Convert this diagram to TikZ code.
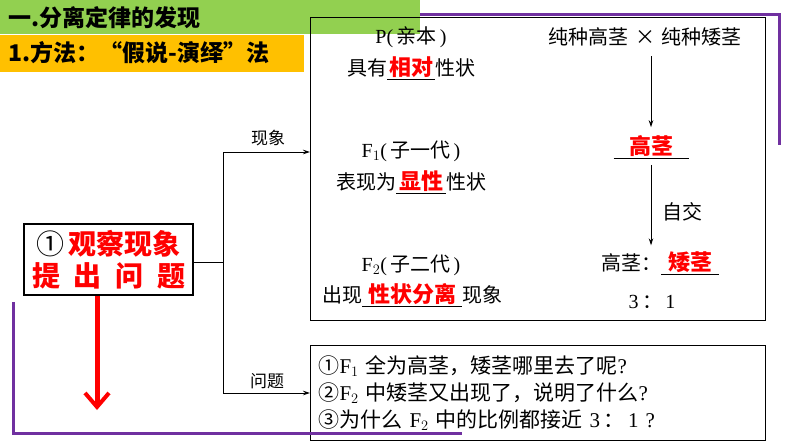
\documentclass[tikz,border=0pt]{standalone}
\usepackage{fontspec}
\setmainfont{Liberation Serif}
\newfontfamily\cjk{Noto Sans CJK SC}
\usetikzlibrary{arrows.meta}
\definecolor{hgreen}{HTML}{92D050}
\definecolor{horange}{HTML}{FFC000}
\definecolor{hpurple}{HTML}{7030A0}
\definecolor{hred}{HTML}{FF0000}
\newcommand{\ans}[1]{\textcolor{hred}{\bfseries #1}}
\newcommand{\bigans}[1]{\textcolor{hred}{\bfseries\fontsize{22}{24}\selectfont #1}}
\newcommand{\blank}[2]{\underline{\makebox[#1][c]{\bigans{#2}}}}
\begin{document}
\begin{tikzpicture}[x=1pt,y=-1pt,
  every node/.style={inner sep=0pt},
  txt/.style={font=\cjk\fontsize{20}{24}\selectfont},
  hdr/.style={font=\cjk\bfseries\fontsize{23}{26}\selectfont, anchor=west},
  lbl/.style={font=\cjk\fontsize{17}{20}\selectfont},
  conn/.style={line width=0.8pt, -{Stealth[length=7pt,width=4.5pt]}},
  plain/.style={line width=0.8pt},
  purp/.style={draw=hpurple, line width=3pt},
  redarr/.style={draw=hred, line width=5pt, -{Straight Barb[length=14pt,width=24pt,line width=4pt]}},
  boxed/.style={draw, line width=1pt, anchor=north west}]
\useasboundingbox (0,0) rectangle (794,447);
\fill[white] (0,0) rectangle (794,447);
% top purple frame
\draw[purp] (410,14) -- (779,14) -- (779,145);
% header bars
\fill[hgreen] (0,0) rectangle (420,34);
\fill[horange] (0,35) rectangle (304,72);
\node[hdr] (title) at (8,18) {一.分离定律的发现};
\node[hdr] (method) at (8,53) {1.方法：“假说-演绎”法};
% main box
\node[boxed, minimum width=455pt, minimum height=303pt] (mainbox) at (310,17) {};
\node[txt] (p) at (411,37) {{\rmfamily P(\,}亲本{\rmfamily \,)}};
\node[txt] (ptrait) at (411,68) {具有\blank{48pt}{相对}性状};
\node[txt] (f1) at (411,151) {{\rmfamily F$_1$(\,}子一代{\rmfamily \,)}};
\node[txt] (f1trait) at (411,182) {表现为\blank{50pt}{显性}性状};
\node[txt] (f2) at (411,265) {{\rmfamily F$_2$(\,}子二代{\rmfamily \,)}};
\node[txt] (f2trait) at (412,295) {出现\blank{100pt}{性状分离}现象};
\node[txt] (cross) at (645,37) {纯种高茎\,\,×\,\,纯种矮茎};
\node[txt] (f1tall) at (651,147) {\blank{75pt}{高茎}};
\node[txt] (f2ratio) at (660,263) {高茎：\blank{58pt}{矮茎}};
\node[txt, anchor=west] (selfing) at (662,212) {自交};
\node[txt] (ratio) at (652,302) {{\rmfamily 3\,}：{\rmfamily \,1}};
\draw[conn, shorten <=10pt, shorten >=8pt] (cross.south -| f1tall) -- (f1tall.north);
\draw[conn, shorten <=6pt, shorten >=6pt] (f1tall.south) -- (f2ratio.north -| f1tall);
% left box
\node[boxed, line width=2pt, minimum width=169pt, minimum height=71pt, align=center,
  font=\cjk\fontsize{28}{32}\selectfont] (obs) at (23,223)
  {①\hspace{4pt}\ans{观察现象}\\ \makebox[153pt][s]{\ans{提}\hfil\ans{出}\hfil\ans{问}\hfil\ans{题}}};
% question box
\node[boxed, minimum width=455pt, minimum height=95pt, text width=439pt, inner xsep=8pt, align=left,
  font=\cjk\fontsize{21}{27}\selectfont] (qbox) at (310,345)
  {①{\rmfamily F$_1$} 全为高茎，矮茎哪里去了呢{\rmfamily ?}\\
   ②{\rmfamily F$_2$} 中矮茎又出现了，说明了什么{\rmfamily ?}\\
   ③为什么 {\rmfamily F$_2$} 中的比例都接近 {\rmfamily 3\,}：{\rmfamily \,1 ?}};
% connectors
\coordinate (jn) at (223,262);
\draw[plain] (obs.east |- jn) -- (jn);
\draw[conn] (jn) |- (mainbox.west |- 0,152);
\draw[conn] (jn) |- (qbox.west);
\node[lbl] (lphen) at (268,138) {现象};
\node[lbl] (lques) at (267,381) {问题};
% red arrow
\coordinate (rtip) at (97,410);
\draw[redarr] (obs.south -| rtip) -- (rtip);
% bottom purple frame
\draw[purp] (13,302) -- (13,433) -- (462,433);
\end{tikzpicture}
\end{document}
